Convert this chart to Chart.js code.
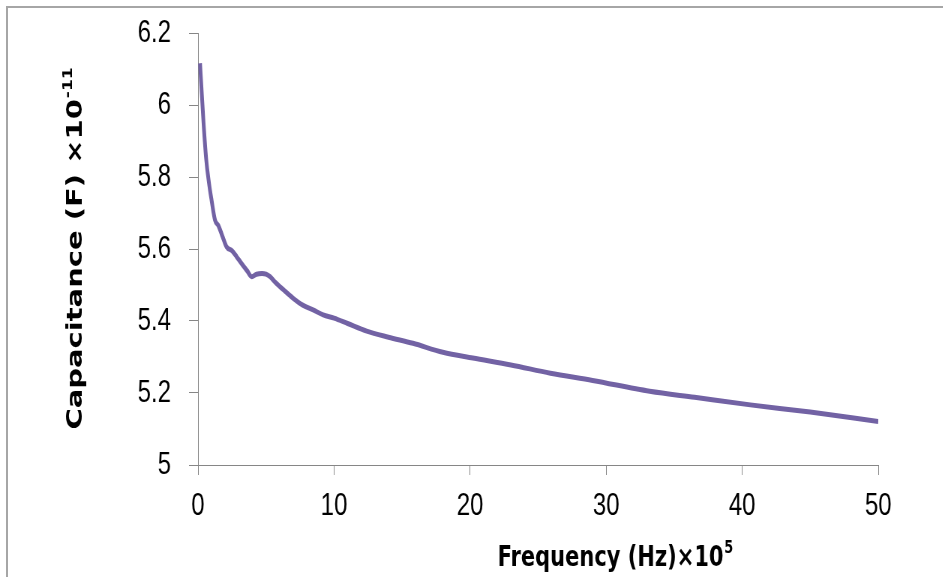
<!DOCTYPE html>
<html>
<head>
<meta charset="utf-8">
<script src="https://cdn.jsdelivr.net/npm/chart.js@4.4.1/dist/chart.umd.min.js"></script>
<style>
  body { margin: 0; background: #fff; overflow: hidden; }
  #page { position: relative; width: 943px; height: 577px; overflow: hidden; }
  /* the original figure is squeezed sideways, so the chart is drawn wider and compressed */
  #wrap { position: absolute; left: 0; top: 0; width: 1257px; height: 577px;
          transform: scaleX(0.75); transform-origin: 0 0; }
  #frame { position: absolute; left: 6px; top: 6px; right: -10px; bottom: -10px;
           border-left: 2px solid #a6a6a6; border-top: 2px solid #a6a6a6; pointer-events: none; }
</style>
</head>
<body>
<div id="page">
  <div id="wrap"><canvas id="cap-chart"></canvas></div>
  <div id="frame"></div>
</div>
<script>
// frequency (x10^5 Hz) and capacitance (x10^-11 F)
const frequency = [0.15, 0.25, 0.4, 0.6, 0.8, 1.0, 1.25, 1.5, 1.8, 2.1, 2.5, 2.85, 3.2, 3.6, 3.95,
    4.3, 4.7, 5.0, 5.3, 5.7, 6.3, 7.0, 7.7, 8.5, 9.2, 10, 11, 12.4, 14, 15.8, 18, 20.2, 23,
    25.9, 29, 33.2, 36.5, 40.6, 45, 50];
const capacitance = [6.116, 6.05, 5.955, 5.85, 5.785, 5.735, 5.68, 5.665, 5.635, 5.606, 5.595, 5.578,
    5.56, 5.54, 5.523, 5.53, 5.532, 5.53, 5.523, 5.507, 5.486, 5.463, 5.444, 5.43, 5.417, 5.408,
    5.393, 5.372, 5.355, 5.338, 5.313, 5.297, 5.278, 5.255, 5.235, 5.205, 5.188, 5.167, 5.147, 5.121];

const xTitle = ["Frequency (Hz)\u00d710", "5"];
const yTitle = ["Capacitance (F) \u00d710", "-11"];

const squeeze = 0.75;
const axisGrey = "#868686";
const tickFont = { family: "'Liberation Sans', Arial, sans-serif", size: 32 };

// draws axis titles with a real superscript (canvas units, before the squeeze)
const axisTitles = {
    id: "axisTitles",
    afterDraw(chart) {
        const ctx = chart.ctx;
        ctx.save();
        ctx.fillStyle = "#000";
        ctx.textBaseline = "alphabetic";
        ctx.textAlign = "left";

        // x title
        const big = "bold 28px 'DejaVu Sans', sans-serif";
        const small = "bold 17px 'DejaVu Sans', sans-serif";
        ctx.font = big;
        const xw = ctx.measureText(xTitle[0]).width;
        ctx.font = small;
        const xs = ctx.measureText(xTitle[1]).width;
        const x0 = 615 / squeeze - (xw + xs) / 2;
        ctx.font = big;
        ctx.fillText(xTitle[0], x0, 566);
        ctx.font = small;
        ctx.fillText(xTitle[1], x0 + xw + 1, 553);

        // y title, rotated
        ctx.translate(82 / squeeze, 249);
        ctx.rotate(-Math.PI / 2);
        const bigY = "bold 29px 'DejaVu Sans', sans-serif";
        const smallY = "bold 17px 'DejaVu Sans', sans-serif";
        ctx.font = bigY;
        const yw = ctx.measureText(yTitle[0]).width;
        ctx.font = smallY;
        const ys = ctx.measureText(yTitle[1]).width;
        const y0 = -(yw + ys) / 2;
        ctx.font = bigY;
        ctx.fillText(yTitle[0], y0, 0);
        ctx.font = smallY;
        ctx.fillText(yTitle[1], y0 + yw + 1, -13);
        ctx.restore();
    }
};

function noPadding(scale) {
    scale.paddingTop = 0;
    scale.paddingBottom = 0;
    scale.paddingLeft = 0;
    scale.paddingRight = 0;
}

new Chart(document.getElementById("cap-chart").getContext("2d"), {
    type: "line",
    data: {
        datasets: [{
            data: frequency.map((f, i) => ({ x: f, y: capacitance[i] })),
            borderColor: "#7262a4",
            borderWidth: 5,
            pointRadius: 0,
            cubicInterpolationMode: "monotone",
            fill: false
        }]
    },
    options: {
        responsive: true,
        maintainAspectRatio: false,
        animation: false,
        layout: { padding: { top: 33, right: 86, left: 0, bottom: 0 } },
        plugins: {
            legend: { display: false },
            tooltip: { enabled: false }
        },
        scales: {
            x: {
                type: "linear",
                min: 0,
                max: 50,
                ticks: { stepSize: 10, color: "#000", font: tickFont, padding: 12, maxRotation: 0 },
                grid: { drawOnChartArea: false, drawTicks: true, tickLength: 10, color: axisGrey },
                border: { color: axisGrey, width: 1 },
                afterFit(scale) { scale.height = 112; noPadding(scale); }
            },
            y: {
                min: 5,
                max: 6.2,
                ticks: {
                    stepSize: 0.2, color: "#000", font: tickFont, padding: 24,
                    callback: v => String(Number(v.toFixed(1)))
                },
                grid: { drawOnChartArea: false, drawTicks: true, tickLength: 12, color: axisGrey },
                border: { color: axisGrey, width: 1 },
                afterFit(scale) { scale.width = 264; noPadding(scale); }
            }
        }
    },
    plugins: [axisTitles]
});
</script>
</body>
</html>
